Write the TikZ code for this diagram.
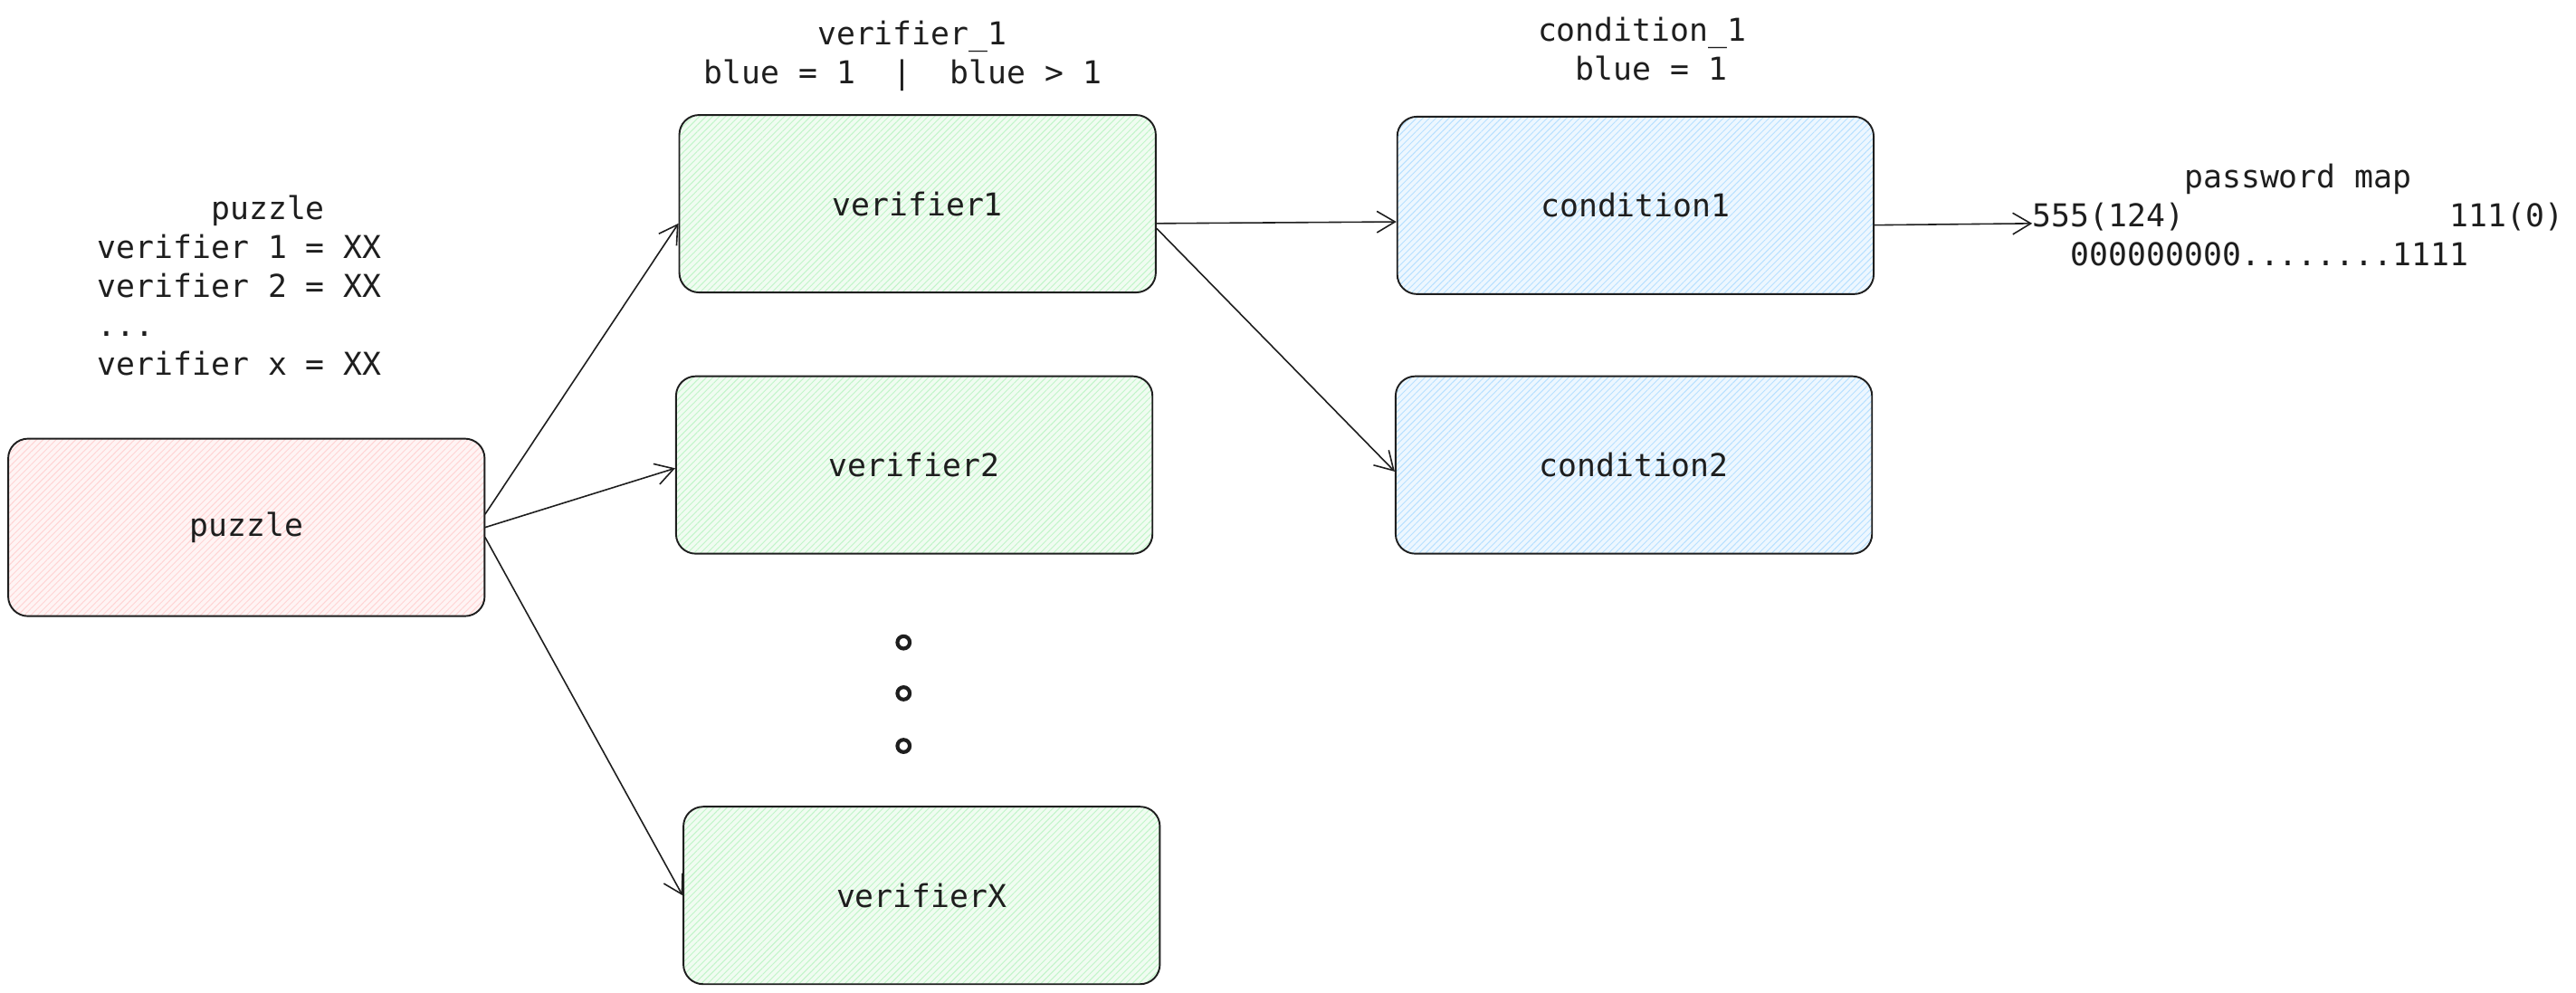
\documentclass[tikz,border=0pt]{standalone}
\usepackage{fontspec}
\setmonofont{DejaVu Sans Mono}
\usetikzlibrary{arrows.meta}
\usetikzlibrary{patterns.meta}
\definecolor{ink}{HTML}{1E1E1E}
\definecolor{redwash}{HTML}{FFC9C9}
\definecolor{greenwash}{HTML}{B2F2BB}
\definecolor{bluewash}{HTML}{A5D8FF}
\newcommand{\gap}[1]{\hspace*{#1\fontcharwd\font`\0}}

\begin{document}
\begin{tikzpicture}[x=0.2mm,y=-0.2mm,
    >={Straight Barb[length=2.2mm,width=2.6mm]},
    font=\ttfamily\fontsize{10.9}{13.5}\selectfont, text=ink,
    box/.style={draw=ink,line width=0.6pt,rounded corners=2.4mm,
      minimum width=58mm,minimum height=21.6mm,inner sep=0pt},
    redbox/.style={box,preaction={fill=redwash!20},
      pattern={Lines[angle=45,distance=1.6pt,line width=0.3pt]},pattern color=redwash!80},
    greenbox/.style={box,preaction={fill=greenwash!20},
      pattern={Lines[angle=45,distance=1.6pt,line width=0.3pt]},pattern color=greenwash!80},
    bluebox/.style={box,preaction={fill=bluewash!20},
      pattern={Lines[angle=45,distance=1.6pt,line width=0.3pt]},pattern color=bluewash!80},
    note/.style={inner sep=0pt},
    link/.style={->,draw=ink,line width=0.5pt},
    smalldot/.style={circle,draw=ink,line width=1.3pt,minimum size=1.5mm,inner sep=0pt}]
    \useasboundingbox (0,0) rectangle (1568,604);

    % 方框
    \node[redbox] (puzzle) at (150,321) {puzzle};
    \node[greenbox] (verifier1) at (558.5,124) {verifier1};
    \node[greenbox] (verifier2) at (556.5,283) {verifier2};
    \node[greenbox] (verifierX) at (561,545) {verifierX};
    \node[bluebox] (condition1) at (995.5,125) {condition1};
    \node[bluebox] (condition2) at (994.5,283) {condition2};

    % 省略号
    \foreach \i/\y in {1/391,2/422,3/454}
        \node[smalldot] (dot\i) at (550,\y) {};

    % 说明文字
    \node[note,anchor=west,align=left] (puzzlenote) at (59,174)
        {\phantom{xxxxxx}puzzle\\verifier 1 = XX\\verifier 2 = XX\\...\\verifier x = XX};
    \node[note,align=center] (verifiernote) at (549.5,34)
        {\phantom{x}verifier\_1\\blue = 1~~|~~blue > 1};
    \node[note,align=center] (conditionnote) at (999.5,30)
        {condition\_1\\\phantom{x}blue = 1};
    \node[note,anchor=west,align=left] (pwmap) at (1237,131)
        {\gap{8}password map\\555(124)\gap{14}111(0)\\\gap{2}000000000........1111};

    % 箭头
    \draw[link] ([yshift=1.6mm]puzzle.east) -- ([yshift=-2.4mm]verifier1.west);
    \draw[link] (puzzle.east) -- ([yshift=-0.4mm]verifier2.west);
    \draw[link] ([yshift=-1.2mm]puzzle.east) -- (verifierX.west);
    \draw[link] ([yshift=-2.4mm]verifier1.east) -- ([yshift=-2mm]condition1.west);
    \draw[link] ([yshift=-3mm]verifier1.east) -- ([yshift=-0.8mm]condition2.west);
    \draw[link] ([yshift=-2.4mm]condition1.east) -- ([yshift=-1mm]pwmap.west);
\end{tikzpicture}
\end{document}
